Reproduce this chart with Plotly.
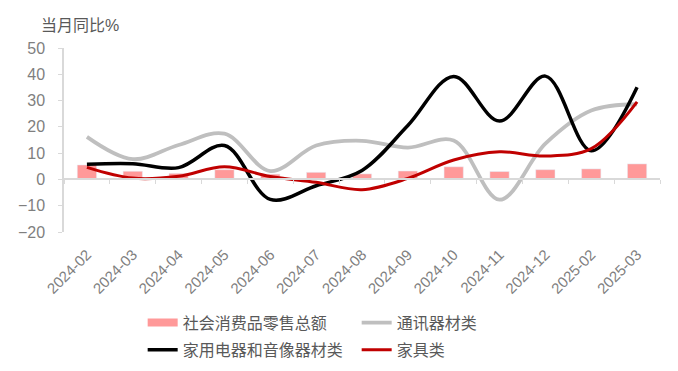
import plotly.graph_objects as go

months = ["2024-02", "2024-03", "2024-04", "2024-05", "2024-06", "2024-07", "2024-08",
          "2024-09", "2024-10", "2024-11", "2024-12", "2025-02", "2025-03"]
retail_total = [5.5, 3.1, 2.3, 3.7, 2.0, 2.7, 2.1, 3.2, 4.8, 3.0, 3.7, 4.0, 5.9]
telecom = [16.2, 7.7, 13.1, 17.4, 3.2, 12.9, 14.7, 12.1, 14.8, -7.7, 13.6, 26.2, 28.6]
appliances = [5.8, 6.0, 4.5, 12.9, -7.6, -2.4, 3.4, 20.5, 39.2, 22.2, 39.3, 10.9, 35.1]
furniture = [4.6, 0.5, 1.2, 4.8, 1.1, -1.1, -3.9, 0.4, 7.4, 10.5, 8.9, 11.7, 29.5]
y_ticks = [-20, -10, 0, 10, 20, 30, 40, 50]

names = ["社会消费品零售总额", "通讯器材类", "家用电器和音像器材类", "家具类"]
PINK = "#FF9999"
GRAY = "#BFBFBF"
BLACK = "#000000"
RED = "#C00000"
TXT = "#7F7F7F"
FONT = "Liberation Sans, Noto Sans CJK SC, sans-serif"

fig = go.Figure()
fig.add_trace(go.Bar(x=months, y=retail_total, marker_color=PINK, showlegend=False,
                     xaxis="x", yaxis="y"))
# legend entry for the bar series (wide rectangle like the original)
fig.add_trace(go.Scatter(x=[None], y=[None], mode="lines", name=names[0],
                         line=dict(color=PINK, width=8), legend="legend"))
fig.add_trace(go.Scatter(x=months, y=telecom, mode="lines", name=names[1],
                         line=dict(color=GRAY, width=3.8, shape="spline", smoothing=1),
                         xaxis="x2", yaxis="y", legend="legend"))
fig.add_trace(go.Scatter(x=months, y=appliances, mode="lines", name=names[2],
                         line=dict(color=BLACK, width=3.5, shape="spline", smoothing=1),
                         xaxis="x2", yaxis="y", legend="legend2"))
fig.add_trace(go.Scatter(x=months, y=furniture, mode="lines", name=names[3],
                         line=dict(color=RED, width=3, shape="spline", smoothing=1),
                         xaxis="x2", yaxis="y", legend="legend2"))

cat_range = [-0.5, len(months) - 0.5]
legend_common = dict(orientation="h", xanchor="left", yanchor="top",
                     xref="container", yref="container",
                     font=dict(family=FONT, size=16, color="#595959"),
                     entrywidth=169, entrywidthmode="pixels",
                     bgcolor="rgba(0,0,0,0)", traceorder="normal", itemwidth=30)

# the page body adds an 8px offset, so the figure is sized to the visible area
fig.update_layout(
    width=670, height=363,
    margin=dict(l=56, r=18, t=40, b=139),
    paper_bgcolor="white", plot_bgcolor="white",
    font=dict(family=FONT, size=16, color=TXT),
    bargap=0.58,
    xaxis=dict(type="category", categoryorder="array", categoryarray=months,
               range=cat_range, showline=False, showgrid=False, zeroline=False,
               ticks="", tickangle=-45, tickfont=dict(size=15, color=TXT),
               ticklabelstandoff=10, automargin=False),
    xaxis2=dict(type="category", categoryorder="array", categoryarray=months,
                range=cat_range, overlaying="x", anchor="free",
                position=(0 - y_ticks[0]) / (y_ticks[-1] - y_ticks[0]),
                showline=True, linecolor="#D9D9D9", linewidth=1.5,
                ticks="outside", tickson="boundaries", ticklen=4, tickcolor="#D9D9D9",
                showticklabels=False, showgrid=False, zeroline=False, automargin=False),
    yaxis=dict(range=[y_ticks[0], y_ticks[-1]], tickvals=y_ticks, showgrid=False,
               zeroline=False, showline=True, linecolor="#D9D9D9", linewidth=1.5,
               ticks="outside", ticklen=4, tickcolor="#D9D9D9",
               tickfont=dict(size=16, color=TXT), ticklabelstandoff=10, automargin=False),
    legend=dict(x=0.201, y=0.18, **legend_common),
    legend2=dict(x=0.201, y=0.105, **legend_common),
    annotations=[dict(text="当月同比%", xref="paper", yref="paper", x=-0.042, y=1.125,
                      xanchor="left", yanchor="middle", showarrow=False,
                      font=dict(family=FONT, size=16, color="#595959"))],
)

fig.write_html("out.html")
